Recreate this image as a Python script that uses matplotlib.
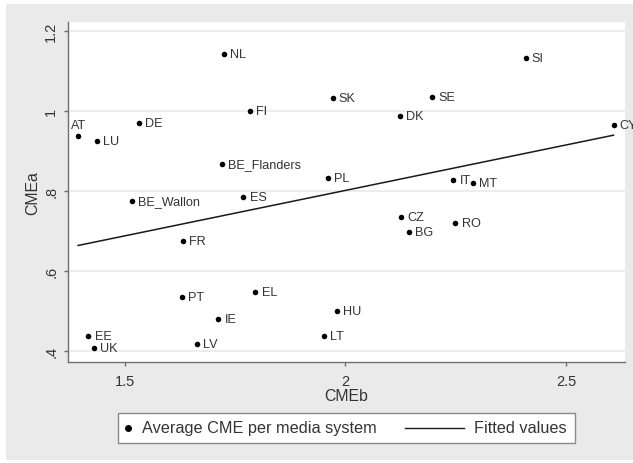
# Scatter of CMEa vs CMEb with fitted line (Stata-style look)
import matplotlib
matplotlib.use("Agg")
import matplotlib.pyplot as plt
from matplotlib.patches import Rectangle
from matplotlib.lines import Line2D
import numpy as np

# Data
countries = ["NL", "FI", "AT", "LU", "DE", "BE_Flanders", "BE_Wallon", "ES",
             "SI", "SK", "SE", "DK", "CY", "PL", "IT", "MT", "CZ", "RO", "BG",
             "FR", "PT", "EL", "IE", "EE", "UK", "LV", "HU", "LT"]
cme_b = [1.725, 1.784, 1.395, 1.438, 1.533, 1.720, 1.517, 1.769,
         2.408, 1.971, 2.196, 2.123, 2.607, 1.960, 2.244, 2.289, 2.126, 2.249, 2.143,
         1.632, 1.629, 1.796, 1.712, 1.418, 1.430, 1.663, 1.981, 1.952]
cme_a = [1.1425, 1.000, 0.937, 0.926, 0.969, 0.8675, 0.776, 0.786,
         1.132, 1.0325, 1.034, 0.9875, 0.965, 0.832, 0.8275, 0.820, 0.734, 0.721, 0.698,
         0.674, 0.535, 0.5475, 0.480, 0.437, 0.408, 0.417, 0.500, 0.438]
xticks = [1.5, 2, 2.5]
xtick_labels = ["1.5", "2", "2.5"]
yticks = [0.4, 0.6, 0.8, 1.0, 1.2]
ytick_labels = [".4", ".6", ".8", "1", "1.2"]

plt.rcParams["font.family"] = ["Liberation Sans", "DejaVu Sans"]

W, H = 633, 464
fig = plt.figure(figsize=(W / 100, H / 100), dpi=100, facecolor="white")


def fx(px):
    return px / W


def fy(py):
    return 1 - py / H


# Gray graph region
fig.patches.append(Rectangle((fx(6), fy(461)), fx(633) - fx(6), fy(5) - fy(461),
                             transform=fig.transFigure, facecolor="#eaeaea",
                             edgecolor="none", zorder=-10))

ax = fig.add_axes([fx(68), fy(363), fx(625) - fx(68), fy(23) - fy(363)])
ax.set_facecolor("white")
ax.set_xlim(1.372, 2.633)
ax.set_ylim(0.3725, 1.2225)

# Grid
for yv in yticks:
    ax.axhline(yv, color="#eaeaea", lw=1.2, zorder=0)

# Fitted line
x = np.array(cme_b)
y = np.array(cme_a)
slope, icpt = np.polyfit(x, y, 1)
xs = np.array([x.min(), x.max()])
ax.plot(xs, icpt + slope * xs, color="#1a1a1a", lw=1.1, zorder=2)

# Points and labels
ax.scatter(x, y, s=16, color="black", zorder=3, linewidths=0)
for name, xv, yv in zip(countries, cme_b, cme_a):
    if name == "AT":
        ax.annotate(name, (xv, yv), xytext=(0, 8), textcoords="offset points",
                    ha="center", va="center", fontsize=9.1, color="#333333",
                    annotation_clip=False, clip_on=False)
    else:
        ax.annotate(name, (xv, yv), xytext=(4.5, 0), textcoords="offset points",
                    ha="left", va="center", fontsize=9.1, color="#333333",
                    annotation_clip=False, clip_on=False)

# Axes styling
for side in ["top", "right"]:
    ax.spines[side].set_visible(False)
for side in ["left", "bottom"]:
    ax.spines[side].set_color("#6e6e6e")
    ax.spines[side].set_linewidth(1.0)

ax.set_xticks(xticks)
ax.set_xticklabels(xtick_labels)
ax.set_yticks(yticks)
ax.set_yticklabels(ytick_labels, rotation=90, va="center")
ax.tick_params(axis="both", length=3, width=1, color="#6e6e6e",
               labelsize=10.5, labelcolor="#333333")
ax.tick_params(axis="x", pad=5.5)
ax.tick_params(axis="y", pad=4)
ax.set_xlabel("CMEb", fontsize=11.4, color="#333333", labelpad=0)
ax.set_ylabel("CMEa", fontsize=11.4, color="#333333", labelpad=3)

# Legend box drawn by hand
fig.patches.append(Rectangle((fx(118), fy(444)), fx(575) - fx(118), fy(414) - fy(444),
                             transform=fig.transFigure, facecolor="white",
                             edgecolor="#8a8a8a", lw=1.0, zorder=1))
fig.add_artist(Line2D([fx(128)], [fy(429)], marker="o", markersize=4,
                      color="black", linestyle="none"))
fig.text(fx(142), fy(429), "Average CME per media system", fontsize=11.7,
         color="#333333", ha="left", va="center")
fig.add_artist(Line2D([fx(405), fx(464)], [fy(429), fy(429)], color="#1a1a1a", lw=1.0))
fig.text(fx(474), fy(429), "Fitted values", fontsize=11.7, color="#333333",
         ha="left", va="center")

fig.savefig("out.png", dpi=100, facecolor="white")
